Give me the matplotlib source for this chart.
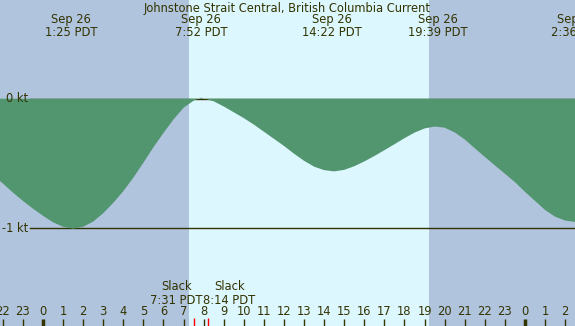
import numpy as np
import matplotlib
matplotlib.use('Agg')
import matplotlib.pyplot as plt
import matplotlib.transforms as mtransforms

##### DATA (hours after midnight Sep 26, current in knots)
hours = [-2.5, -2.0, -1.5, -1.0, -0.5, 0.0, 0.5, 1.0, 1.5, 2.0, 2.5, 3.0, 3.5,
         4.0, 4.5, 5.0, 5.5, 6.0, 6.5, 7.0, 7.5, 7.87, 8.5, 9.0, 9.5, 10.0,
         10.5, 11.0, 11.5, 12.0, 12.5, 13.0, 13.5, 14.0, 14.5, 15.0, 15.5,
         16.0, 16.5, 17.0, 17.5, 18.0, 18.5, 19.0, 19.5, 20.0, 20.5, 21.0,
         21.5, 22.0, 22.5, 23.0, 23.5, 24.0, 24.5, 25.0, 25.5, 26.0, 26.5, 27.0]
current = [-0.59, -0.655, -0.725, -0.79, -0.85, -0.905, -0.955, -0.99, -1.005,
           -0.99, -0.95, -0.885, -0.805, -0.715, -0.61, -0.495, -0.375, -0.265,
           -0.16, -0.07, -0.015, 0.008, -0.02, -0.06, -0.105, -0.15, -0.20,
           -0.255, -0.31, -0.365, -0.425, -0.48, -0.525, -0.552, -0.562, -0.55,
           -0.522, -0.485, -0.443, -0.398, -0.352, -0.305, -0.262, -0.23,
           -0.215, -0.224, -0.26, -0.315, -0.383, -0.45, -0.515, -0.58, -0.645,
           -0.72, -0.79, -0.86, -0.912, -0.942, -0.953, -0.95]

event_hours = [1 + 25/60, 7 + 52/60, 14 + 22/60, 19 + 39/60, 26 + 36/60]
event_dates = ['Sep 26', 'Sep 26', 'Sep 26', 'Sep 26', 'Sep 26']
event_times = ['1:25 PDT', '7:52 PDT', '14:22 PDT', '19:39 PDT', '2:36 PDT']

slack_hours = [7 + 31/60, 8 + 14/60]
slack_times = ['7:31 PDT', '8:14 PDT']

sunrise = 7.27
sunset = 19.22
tick_hours = list(range(-2, 27))

title = 'Johnstone Strait Central, British Columbia Current'

##### STYLE
night = '#b0c4de'
day = '#ddf7ff'
green = '#52966f'
ink = '#333300'
plt.rcParams['font.family'] = ['DejaVu Sans']
fs = 8.3

##### FIGURE
fig = plt.figure(figsize=(5.75, 3.26), dpi=100)
ax = fig.add_axes([0, 0, 1, 1])
xmin, xmax = -2.14, 26.49
ax.set_xlim(xmin, xmax)
ax.set_ylim(-1.757, 0.763)
ax.axis('off')

ax.axvspan(xmin, sunrise, color=night, zorder=0, lw=0)
ax.axvspan(sunrise, sunset, color=day, zorder=0, lw=0)
ax.axvspan(sunset, xmax, color=night, zorder=0, lw=0)

ax.axhline(0, xmin=30/575, color=ink, lw=1.0, zorder=1)
ax.axhline(-1, xmin=30/575, color=ink, lw=1.0, zorder=1)
ax.fill_between(hours, 0, current, color=green, lw=0, zorder=2)

ytrans = mtransforms.blended_transform_factory(ax.transAxes, ax.transData)
ax.text(28/575, 0, '0 kt', ha='right', va='center', color=ink, fontsize=fs,
        transform=ytrans)
ax.text(28/575, -1, '-1 kt', ha='right', va='center', color=ink, fontsize=fs,
        transform=ytrans)

trans = mtransforms.blended_transform_factory(ax.transData, ax.transAxes)

##### TITLE AND EVENT LABELS
ax.text(0.5, 1 - 8.5/326, title, ha='center', va='center', color=ink,
        fontsize=fs, transform=ax.transAxes)
for h, d, t in zip(event_hours, event_dates, event_times):
    ax.text(h, 1 - 20/326, d, ha='center', va='center', color=ink, fontsize=fs,
            transform=trans, clip_on=False)
    ax.text(h, 1 - 32/326, t, ha='center', va='center', color=ink, fontsize=fs,
            transform=trans, clip_on=False)

##### SLACK LABELS (pushed apart, each "Slack" centred over its time)
mid = (slack_hours[0] + slack_hours[1]) / 2 + 0.09
for t, ha in zip(slack_times, ['right', 'left']):
    ax.text(mid, 1 - 306.5/326, 'Slack\n' + t, ha=ha, va='bottom', color=ink,
            fontsize=fs, transform=trans, multialignment='center',
            linespacing=1.05)

##### HOUR AXIS
for h in tick_hours:
    ax.text(h, 1 - 311.5/326, str(h % 24), ha='center', va='center', color=ink,
            fontsize=fs, transform=trans)
    ax.plot([h, h], [0, 7/326], color=ink, lw=2.5 if h % 24 == 0 else 1.0,
            transform=trans, solid_capstyle='butt', zorder=3)
for h in slack_hours:
    ax.plot([h, h], [0, 8/326], color='red', lw=1.0, transform=trans,
            solid_capstyle='butt', zorder=3)

fig.savefig('out.png', dpi=100)
